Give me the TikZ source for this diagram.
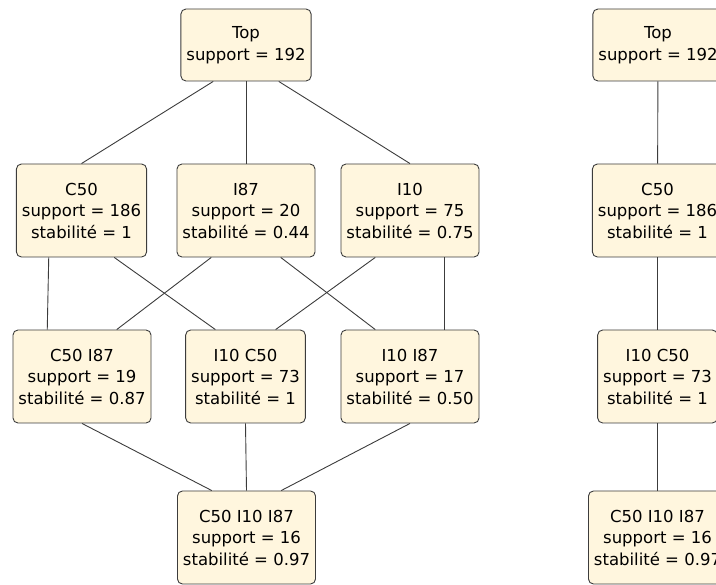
\documentclass[tikz,border=0pt]{standalone}
\usepackage{fontspec}
\setmainfont{DejaVu Sans}
\usetikzlibrary{calc}

\definecolor{crema}{RGB}{255,246,222}
\definecolor{bordo}{RGB}{60,60,60}

\begin{document}
\begin{tikzpicture}[x=1pt, y=-1pt]
	% Stile comune per i concetti del reticolo
	\tikzset{
		concept/.style={
			draw=bordo,
			line width=0.9pt,
			fill=crema,
			rounded corners=5pt,
			inner xsep=5.5pt,
			inner ysep=0pt,
			minimum height=93pt,
			align=center,
			font=\fontsize{16.5}{21.5}\selectfont
		},
		link/.style={draw=bordo, line width=0.9pt}
	}
	
	% Cornice della figura
	\useasboundingbox (0,0) rectangle (716,585);
	
	% Reticolo completo
	\node[concept, minimum height=72pt] (top) at (246,45) {Top\\support = 192};
	\node[concept] (c50) at (81.5,210.5) {C50\\support = 186\\stabilité = 1};
	\node[concept] (i87) at (246,210.5) {I87\\support = 20\\stabilité = 0.44};
	\node[concept] (i10) at (410,210.5) {I10\\support = 75\\stabilité = 0.75};
	\node[concept] (c50i87) at (82,376.5) {C50 I87\\support = 19\\stabilité = 0.87};
	\node[concept] (i10c50) at (245.5,376.5) {I10 C50\\support = 73\\stabilité = 1};
	\node[concept] (i10i87) at (410,376.5) {I10 I87\\support = 17\\stabilité = 0.50};
	\node[concept] (c50i10i87) at (246.5,537.5) {C50 I10 I87\\support = 16\\stabilité = 0.97};
	
	% Da Top al primo livello
	\draw[link] ($(top.south west)!0.25!(top.south east)$) -- (c50.north);
	\draw[link] (top.south) -- (i87.north);
	\draw[link] ($(top.south west)!0.75!(top.south east)$) -- (i10.north);
	
	% Dal primo al secondo livello
	\draw[link] ($(c50.south west)!0.25!(c50.south east)$) -- ($(c50i87.north west)!0.25!(c50i87.north east)$);
	\draw[link] ($(c50.south west)!0.75!(c50.south east)$) -- ($(i10c50.north west)!0.25!(i10c50.north east)$);
	\draw[link] ($(i87.south west)!0.25!(i87.south east)$) -- ($(c50i87.north west)!0.75!(c50i87.north east)$);
	\draw[link] ($(i87.south west)!0.75!(i87.south east)$) -- ($(i10i87.north west)!0.25!(i10i87.north east)$);
	\draw[link] ($(i10.south west)!0.25!(i10.south east)$) -- ($(i10c50.north west)!0.75!(i10c50.north east)$);
	\draw[link] ($(i10.south west)!0.75!(i10.south east)$) -- ($(i10i87.north west)!0.75!(i10i87.north east)$);
	
	% Dal secondo livello al concetto finale
	\draw[link] (c50i87.south) -- ($(c50i10i87.north west)!0.25!(c50i10i87.north east)$);
	\draw[link] (i10c50.south) -- (c50i10i87.north);
	\draw[link] (i10i87.south) -- ($(c50i10i87.north west)!0.75!(c50i10i87.north east)$);
	
	% Catena a destra (tagliata dal bordo)
	\node[concept, minimum height=72pt] (rtop) at (658,45) {Top\\support = 192};
	\node[concept] (rc50) at (657.5,210.5) {C50\\support = 186\\stabilité = 1};
	\node[concept] (ri10c50) at (657.5,376.5) {I10 C50\\support = 73\\stabilité = 1};
	\node[concept] (rc50i10i87) at (657.5,537.5) {C50 I10 I87\\support = 16\\stabilité = 0.97};
	
	\draw[link] (rtop) -- (rc50);
	\draw[link] (rc50) -- (ri10c50);
	\draw[link] (ri10c50) -- (rc50i10i87);
\end{tikzpicture}
\end{document}
